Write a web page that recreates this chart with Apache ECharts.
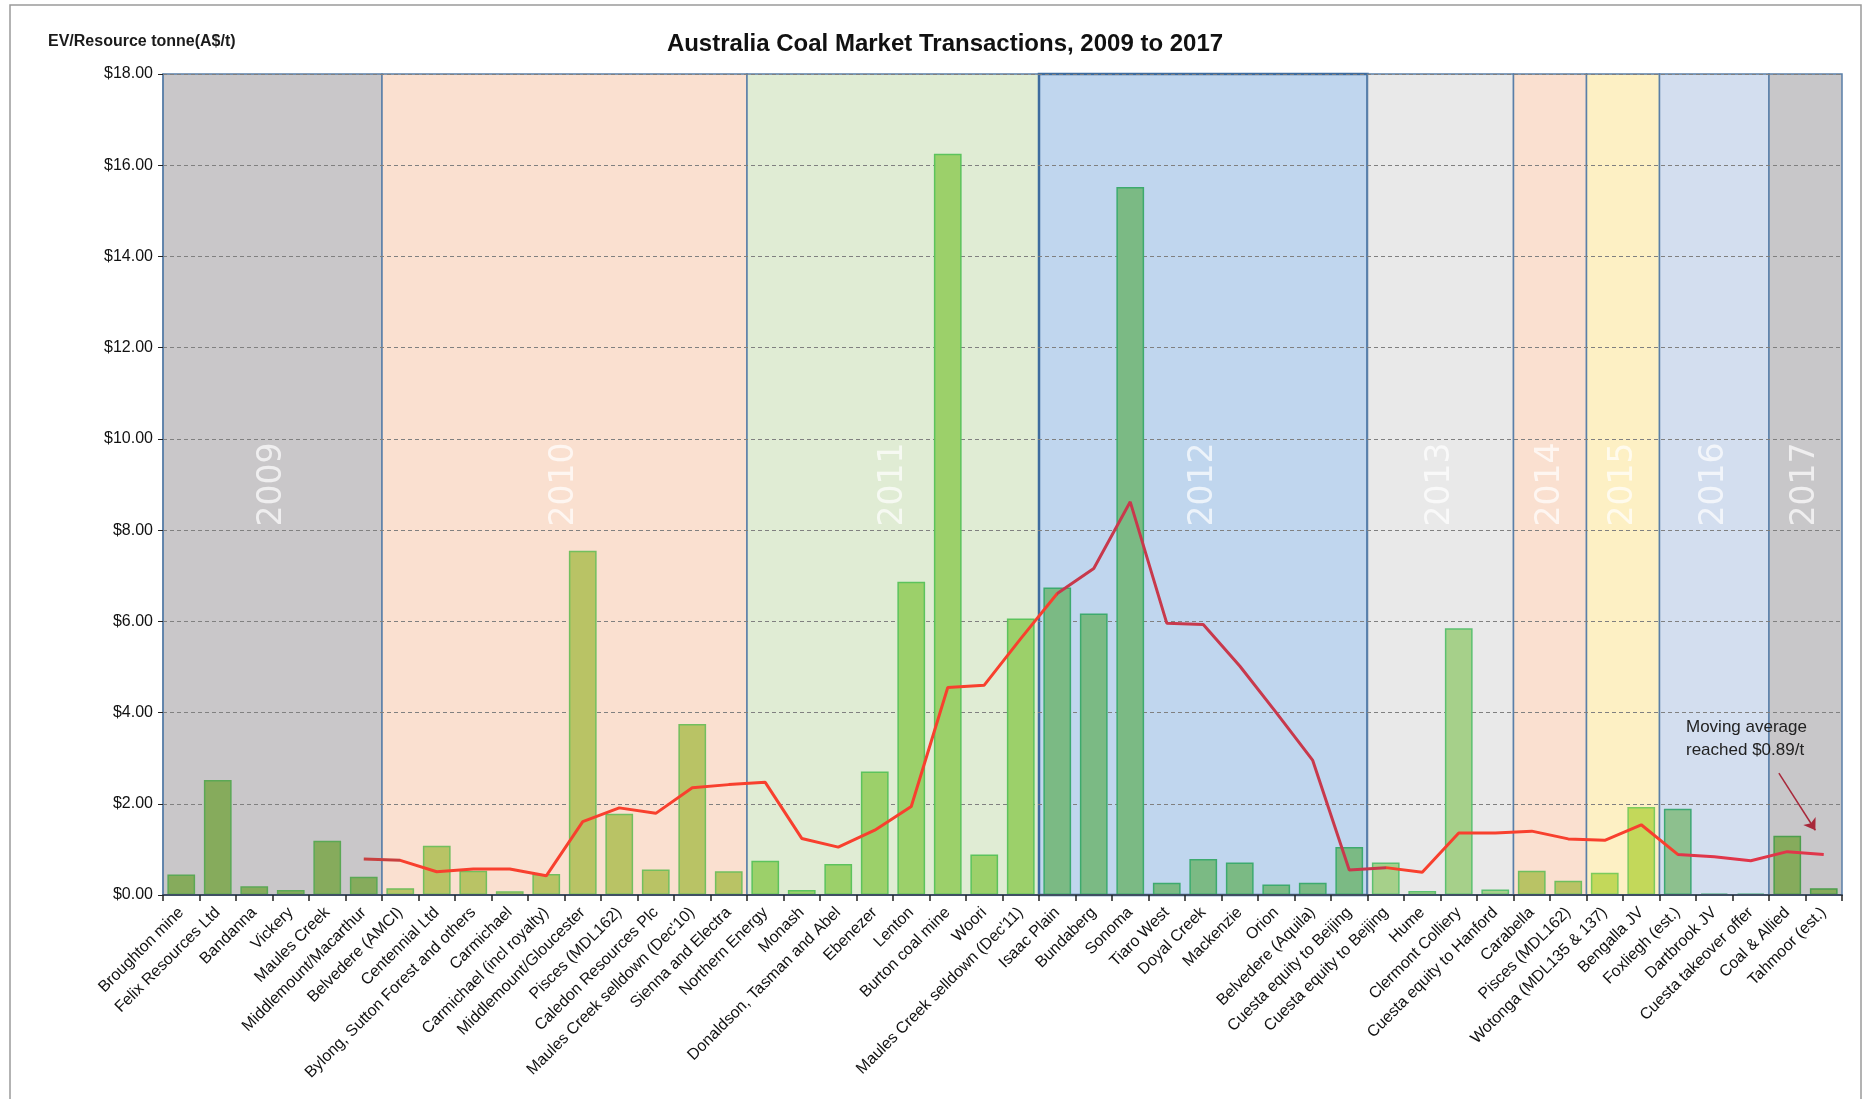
<!DOCTYPE html>
<html lang="en">
  <head>
    <meta charset="UTF-8" />
    <title>Australia Coal Market Transactions, 2009 to 2017</title>
    <script src="https://cdn.jsdelivr.net/npm/echarts@6.0.0/dist/echarts.min.js"></script>
    <style>
      * {
        margin: 0;
        padding: 0;
      }
      body {
        background: #fff;
      }
    </style>
  </head>
  <body>
    <div id="main" style="width: 1868px; height: 1099px"></div>
    <script>
      // deal names, in time order
      var deals = [
        'Broughton mine', 'Felix Resources Ltd', 'Bandanna', 'Vickery', 'Maules Creek', 'Middlemount/Macarthur',
        'Belvedere (AMCI)', 'Centennial Ltd', 'Bylong, Sutton Forest and others', 'Carmichael', 'Carmichael (incl royalty)',
        'Middlemount/Gloucester', 'Pisces (MDL162)', 'Caledon Resources Plc', "Maules Creek selldown (Dec'10)", 'Sienna and Electra',
        'Northern Energy', 'Monash', 'Donaldson, Tasman and Abel', 'Ebenezer', 'Lenton', 'Burton coal mine', 'Woori',
        "Maules Creek selldown (Dec'11)",
        'Isaac Plain', 'Bundaberg', 'Sonoma', 'Tiaro West', 'Doyal Creek', 'Mackenzie', 'Orion', 'Belvedere (Aquila)',
        'Cuesta equity to Beijing',
        'Cuesta equity to Beijing', 'Hume', 'Clermont Colliery', 'Cuesta equity to Hanford',
        'Carabella', 'Pisces (MDL162)',
        'Wotonga (MDL135 & 137)', 'Bengalla JV',
        'Foxliegh (est.)', 'Dartbrook JV', 'Cuesta takeover offer',
        'Coal & Allied', 'Tahmoor (est.)'
      ];
      // EV per resource tonne (A$/t)
      var evPerTonne = [
        0.45, 2.52, 0.19, 0.11, 1.19, 0.4,
        0.15, 1.08, 0.53, 0.08, 0.46, 7.55, 1.78, 0.56, 3.75, 0.52,
        0.75, 0.11, 0.68, 2.71, 6.87, 16.25, 0.89, 6.06,
        6.74, 6.17, 15.52, 0.27, 0.79, 0.71, 0.23, 0.27, 1.05,
        0.71, 0.09, 5.85, 0.12,
        0.53, 0.31,
        0.49, 1.93,
        1.89, 0.03, 0.03,
        1.3, 0.15
      ];
      // moving average
      var movingAvg = [
        null, null, null, null, null, 0.79,
        0.76, 0.51, 0.57, 0.57, 0.42, 1.61, 1.91, 1.79, 2.35, 2.42,
        2.47, 1.24, 1.05, 1.42, 1.94, 4.55, 4.6, 5.62,
        6.61, 7.16, 8.62, 5.96, 5.93, 5.02, 4.0, 2.95, 0.55,
        0.6, 0.5, 1.36, 1.36,
        1.4, 1.23,
        1.2, 1.54,
        0.89, 0.84, 0.75,
        0.95, 0.89
      ];
      var years = ['2009', '2010', '2011', '2012', '2013', '2014', '2015', '2016', '2017'];
      var dealsPerYear = [6, 10, 8, 9, 4, 2, 2, 3, 2];

      // colours per year band
      var bandFill = ['#c9c7c9', '#fae0d0', '#e0ecd4', '#c0d6ee', '#e9e9e9', '#fae0d0', '#fdf0c4', '#d3deef', '#c8c7c9'];
      var barFill = ['#86ab5c', '#b9c365', '#9cd06a', '#7bba84', '#a6d08a', '#b9c365', '#c3d85a', '#8dc08e', '#86ab5c'];
      var barEdge = ['#5ba855', '#72bf5e', '#5cc35c', '#3daa6e', '#5cc070', '#6fbf5e', '#7ccb5c', '#3da874', '#4d9e4e'];

      var bounds = [0];
      dealsPerYear.forEach(function (n, i) {
        bounds.push(bounds[i] + n);
      });
      var yearOf = [];
      dealsPerYear.forEach(function (n, i) {
        for (var k = 0; k < n; k++) yearOf.push(i);
      });

      var bands = years.map(function (y, i) {
        return [
          {
            xAxis: bounds[i],
            itemStyle: {
              color: bandFill[i],
              borderColor: i === 3 ? '#3d6b9e' : '#5a7fa8',
              borderWidth: i === 3 ? 2.5 : 1.5
            }
          },
          { xAxis: bounds[i + 1] }
        ];
      });
      var yearMarks = years.map(function (y, i) {
        return [(bounds[i] + bounds[i + 1]) / 2, 9, y];
      });
      var bars = evPerTonne.map(function (v, i) {
        return {
          value: v,
          itemStyle: { color: barFill[yearOf[i]], borderColor: barEdge[yearOf[i]], borderWidth: 1.5 }
        };
      });

      var myChart = echarts.init(document.getElementById('main'));
      myChart.setOption({
        animation: false,
        backgroundColor: '#fff',
        textStyle: { fontFamily: 'Liberation Sans' },
        title: {
          text: 'Australia Coal Market Transactions, 2009 to 2017',
          left: 940,
          top: 27,
          textAlign: 'center',
          textStyle: { fontSize: 24, fontWeight: 'bold', color: '#111' }
        },
        grid: { left: 163, right: 26, top: 74, bottom: 204, outerBoundsMode: 'none' },
        graphic: [
          {
            type: 'rect',
            shape: { x: 10, y: 5, width: 1851, height: 1110 },
            style: { fill: 'none', stroke: '#9a9a9a', lineWidth: 1.5 },
            z: 0
          },
          {
            type: 'text',
            left: 48,
            top: 34,
            style: {
              text: 'EV/Resource tonne(A$/t)',
              fontSize: 16,
              fontWeight: 'bold',
              fill: '#1a1a1a',
              fontFamily: 'Liberation Sans'
            }
          },
          {
            type: 'text',
            left: 1686,
            top: 716,
            z: 20,
            style: {
              text: 'Moving average\nreached $0.89/t',
              fontSize: 17,
              lineHeight: 23,
              fill: '#222',
              fontFamily: 'Liberation Sans'
            }
          }
        ],
        visualMap: {
          type: 'piecewise',
          show: false,
          seriesIndex: 2,
          dimension: 0,
          pieces: [
            { lt: 5.5, color: '#c8403f' },
            { gte: 5.5, lt: 23.5, color: '#f8402e' },
            { gte: 23.5, lt: 32.5, color: '#c8394c' },
            { gte: 32.5, lt: 40.5, color: '#f8402e' },
            { gte: 40.5, color: '#e0364a' }
          ]
        },
        xAxis: [
          {
            type: 'category',
            data: deals,
            z: 6,
            axisLine: { lineStyle: { color: '#3f4f63', width: 2 } },
            axisTick: { show: true, length: 6, lineStyle: { color: '#222', width: 1.5 } },
            axisLabel: { interval: 0, rotate: 45, fontSize: 16, color: '#111', margin: 15 }
          },
          {
            type: 'value',
            min: 0,
            max: 46,
            show: false
          }
        ],
        yAxis: {
          type: 'value',
          min: 0,
          max: 18,
          interval: 2,
          z: 1.5,
          axisLine: { show: true, lineStyle: { color: '#5a7fa8', width: 1.5 } },
          axisTick: { show: true, length: 5, lineStyle: { color: '#222' } },
          axisLabel: {
            fontSize: 16,
            color: '#111',
            margin: 10,
            formatter: function (v) {
              return '$' + v.toFixed(2);
            }
          },
          splitLine: { show: true, lineStyle: { color: '#808080', type: [4, 3], width: 1 } }
        },
        series: [
          {
            type: 'line',
            xAxisIndex: 1,
            data: [],
            z: 1,
            silent: true,
            markArea: { silent: true, data: bands }
          },
          {
            name: 'EV/Resource tonne',
            type: 'bar',
            data: bars,
            barWidth: '76%',
            z: 3
          },
          {
            name: 'Moving average',
            type: 'line',
            data: movingAvg,
            symbol: 'none',
            z: 4,
            lineStyle: { width: 3 }
          },
          {
            type: 'scatter',
            xAxisIndex: 1,
            data: yearMarks,
            symbolSize: 0,
            z: 2,
            silent: true,
            label: {
              show: true,
              position: 'inside',
              rotate: 90,
              fontSize: 33,
              fontFamily: 'DejaVu Sans',
              color: 'rgba(255,255,255,0.88)',
              formatter: function (p) {
                return p.data[2];
              }
            }
          },
          {
            type: 'line',
            xAxisIndex: 1,
            data: [],
            z: 5,
            silent: true,
            markLine: {
              silent: true,
              symbol: ['none', 'arrow'],
              symbolSize: 11,
              label: { show: false },
              lineStyle: { color: '#a8283a', width: 1.5, type: 'solid' },
              data: [[{ coord: [44.27, 2.67] }, { coord: [45.27, 1.42] }]]
            }
          }
        ]
      });
    </script>
  </body>
</html>
